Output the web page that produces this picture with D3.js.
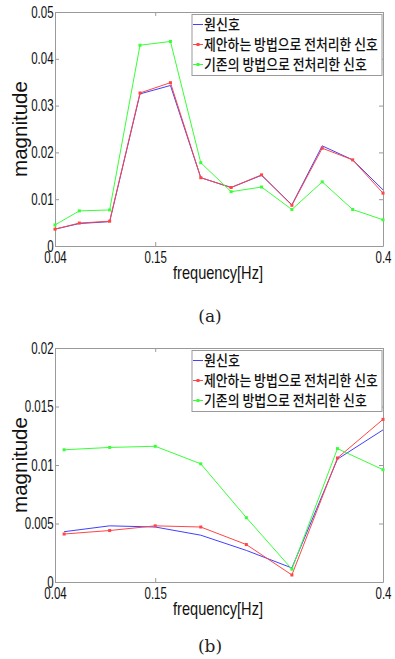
<!DOCTYPE html>
<html>
<head>
<meta charset="utf-8">
<script src="https://cdn.jsdelivr.net/npm/d3@7"></script>
<style>
  body { margin: 0; background: #fff; }
  svg { display: block; }
</style>
</head>
<body>
<div id="chart"></div>
<script>
// values
var freqA = [0.04, 0.0667, 0.1, 0.1333, 0.1667, 0.2, 0.2333, 0.2667, 0.3, 0.3333, 0.3667, 0.4]
var origA = [0.0036, 0.0048, 0.0052, 0.0325, 0.0343, 0.0146, 0.0125, 0.0151, 0.0088, 0.0214, 0.0184, 0.0120]
var propA = [0.0036, 0.0049, 0.0053, 0.0327, 0.0349, 0.0146, 0.0125, 0.0152, 0.0087, 0.0209, 0.0184, 0.0113]
var convA = [0.0045, 0.0075, 0.0077, 0.0429, 0.0437, 0.0178, 0.0116, 0.0126, 0.0078, 0.0137, 0.0078, 0.0056]

var freqB = [0.05, 0.1, 0.15, 0.2, 0.25, 0.3, 0.35, 0.4]
var origB = [0.0043, 0.0048, 0.0047, 0.0040, 0.0027, 0.0012, 0.0105, 0.0130]
var propB = [0.0041, 0.0044, 0.0048, 0.0047, 0.0032, 0.0006, 0.0106, 0.0139]
var convB = [0.0113, 0.0115, 0.0116, 0.0101, 0.0055, 0.0011, 0.0114, 0.0096]

var xTicks = [0.04, 0.15, 0.4]
var yTicksA = [0, 0.01, 0.02, 0.03, 0.04, 0.05]
var yTicksB = [0, 0.005, 0.01, 0.015, 0.02]

var legendLabels = ['원신호', '제안하는 방법으로 전처리한 신호', '기존의 방법으로 전처리한 신호']
var legendWidths = [36, 174, 163]
var colors = ['#4040ff', '#ff4545', '#38ff38']

var W = 395, H = 659
var left = 55, right = 383
var sans = '"Liberation Sans", Arial, sans-serif'

var svg = d3.select('#chart').append('svg')
  .attr('width', W)
  .attr('height', H)

var x = d3.scaleLinear()
  .domain([0.04, 0.4])
  .range([left, right])

function fmt(d) { return d === 0 ? '0' : String(d) }

// squeeze a text horizontally to a given width (the original uses a narrow font)
function squeeze(sel, px, py, width) {
  var n = sel.node()
  var w = n.getComputedTextLength()
  sel.attr('x', 0).attr('y', 0)
    .attr('transform', 'translate(' + px + ',' + py + ') scale(' + (width / w) + ',1)')
}

function drawPanel(top, bottom, yMax, yTicks, freq, series, caption, capY) {
  var y = d3.scaleLinear()
    .domain([0, yMax])
    .range([bottom, top])

  var g = svg.append('g')

  // axes box with inward ticks, matlab style
  var xAxisB = d3.axisBottom(x).tickValues(xTicks).tickSizeInner(-4).tickSizeOuter(0).tickFormat(fmt).tickPadding(6)
  var xAxisT = d3.axisTop(x).tickValues(xTicks).tickSizeInner(-4).tickSizeOuter(0).tickFormat('')
  var yAxisL = d3.axisLeft(y).tickValues(yTicks).tickSizeInner(-4).tickSizeOuter(0).tickFormat(fmt).tickPadding(2)
  var yAxisR = d3.axisRight(y).tickValues(yTicks).tickSizeInner(-4).tickSizeOuter(0).tickFormat('')

  g.append('g').attr('transform', 'translate(0,' + bottom + ')').call(xAxisB)
  g.append('g').attr('transform', 'translate(0,' + top + ')').call(xAxisT)
  g.append('g').attr('transform', 'translate(' + left + ',0)').call(yAxisL)
  g.append('g').attr('transform', 'translate(' + right + ',0)').call(yAxisR)

  g.selectAll('.domain').attr('stroke', '#9a9a9a')
  g.selectAll('.tick line').attr('stroke', '#9a9a9a')
  g.selectAll('.tick text')
    .attr('fill', '#111')
    .attr('transform', 'scale(0.72,1)')
    .style('font-family', sans)
    .style('font-size', '16px')

  var line = d3.line()
    .x(function(d) { return x(d[0]) })
    .y(function(d) { return y(d[1]) })

  series.forEach(function(vals, i) {
    var pts = freq.map(function(f, k) { return [f, vals[k]] })
    g.append('path')
      .datum(pts)
      .attr('fill', 'none')
      .attr('stroke', colors[i])
      .attr('stroke-width', 1)
      .attr('d', line)
    if (i > 0) {
      g.selectAll('.m' + i)
        .data(pts)
        .enter()
        .append('rect')
        .attr('x', function(d) { return x(d[0]) - 1.5 })
        .attr('y', function(d) { return y(d[1]) - 1.5 })
        .attr('width', 3)
        .attr('height', 3)
        .attr('fill', colors[i])
    }
  })

  // legend
  var lx = 192, ly = top + 2.5
  var lg = g.append('g')
  lg.append('rect')
    .attr('x', lx).attr('y', ly)
    .attr('width', 190).attr('height', 61)
    .attr('fill', '#fff')
    .attr('stroke', '#9a9a9a')
  legendLabels.forEach(function(lab, i) {
    var cy = ly + 10 + i * 20
    lg.append('line')
      .attr('x1', lx + 1).attr('x2', lx + 11)
      .attr('y1', cy).attr('y2', cy)
      .attr('stroke', colors[i])
    if (i > 0) {
      lg.append('rect')
        .attr('x', lx + 4.5).attr('y', cy - 1.5)
        .attr('width', 3).attr('height', 3)
        .attr('fill', colors[i])
    }
    var t = lg.append('text')
      .style('font-family', '"Noto Sans CJK KR", sans-serif')
      .style('font-size', '15px')
      .style('font-weight', '500')
      .attr('fill', '#111')
      .text(lab)
    squeeze(t, lx + 12, cy + 5.5, legendWidths[i])
  })

  // axis titles
  var mt = g.append('text')
    .attr('text-anchor', 'middle')
    .style('font-family', sans)
    .style('font-size', '20px')
    .attr('fill', '#111')
    .text('magnitude')
  var mw = mt.node().getComputedTextLength()
  mt.attr('transform', 'translate(27,' + (top + bottom) / 2 + ') rotate(-90) scale(' + (96 / mw) + ',1)')

  var ft = g.append('text')
    .attr('text-anchor', 'middle')
    .style('font-family', sans)
    .style('font-size', '18px')
    .attr('fill', '#111')
    .text('frequency[Hz]')
  squeeze(ft, 218, bottom + 33, 90)

  g.append('text')
    .attr('x', 210)
    .attr('y', capY)
    .attr('text-anchor', 'middle')
    .style('font-family', '"DejaVu Serif", serif')
    .style('font-size', '17px')
    .attr('fill', '#222')
    .text(caption)
}

drawPanel(12, 246, 0.05, yTicksA, freqA, [origA, propA, convA], '(a)', 322)
drawPanel(348, 582, 0.02, yTicksB, freqB, [origB, propB, convB], '(b)', 652)
</script>
</body>
</html>
